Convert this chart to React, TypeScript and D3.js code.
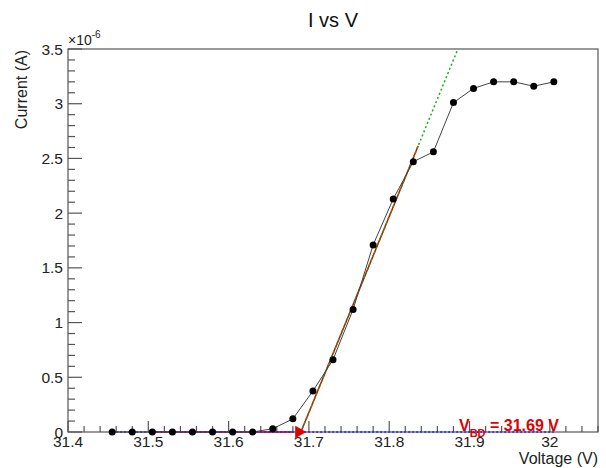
import React from "react";
import * as d3 from "d3";

const voltages = [31.455, 31.48, 31.505, 31.53, 31.555, 31.58, 31.605, 31.63, 31.655, 31.68, 31.705, 31.73, 31.755, 31.78, 31.805, 31.83, 31.855, 31.88, 31.905, 31.93, 31.955, 31.98, 32.005];
const currents = [0, 0, 0, 0, 0, 0, 0, 0, 0.03, 0.12, 0.375, 0.66, 1.12, 1.71, 2.13, 2.47, 2.56, 3.01, 3.14, 3.2, 3.2, 3.16, 3.2].map((v) => v * 1e-6);
const xTicks = [31.4, 31.5, 31.6, 31.7, 31.8, 31.9, 32];
const xTickLabels = ["31.4", "31.5", "31.6", "31.7", "31.8", "31.9", "32"];
const yTicks = [0, 0.5, 1, 1.5, 2, 2.5, 3, 3.5];
const yTickLabels = ["0", "0.5", "1", "1.5", "2", "2.5", "3", "3.5"];
const vbd = 31.69;
const slope = 17.9e-6;
const baseFit = [31.5, 31.68];
const riseFitEnd = 31.836;
const baselineRange = [31.455, 32.005];

export default function App() {
  const L = 68, R = 598, T = 49, B = 432;
  const x = d3.scaleLinear().domain([31.4, 32.06]).range([L, R]);
  const y = d3.scaleLinear().domain([0, 3.5e-6]).range([B, T]);
  const font = "'Liberation Sans', Arial, Helvetica, sans-serif";
  const line = d3.line<number>().x((_, i) => x(voltages[i])).y((d) => y(d));
  const xMinor = d3.range(31.4, 32.061, 0.02).filter((v) => Math.abs(Math.round(v * 10) - v * 10) > 1e-6);
  const yMinor = d3.range(0, 3.51, 0.1).filter((v) => Math.abs(Math.round(v * 2) - v * 2) > 1e-6);
  const greenTop = vbd + 3.5e-6 / slope;
  const tri = d3.symbol().type(d3.symbolTriangle).size(70)();
  return (
    <svg width={606} height={468} style={{ position: "absolute", left: 0, top: 0, background: "#fff" }} fontFamily={font}>
      <rect x={0} y={0} width={606} height={468} fill="#fff" />
      <text x={333} y={27} fontSize={20} textAnchor="middle" fill="#111">I vs V</text>
      <rect x={L} y={T} width={R - L} height={B - T} fill="none" stroke="#555" strokeWidth={1.2} />
      {yTicks.map((v, i) => (
        <g key={"y" + i}>
          <line x1={L} x2={L + 14} y1={y(v * 1e-6)} y2={y(v * 1e-6)} stroke="#555" strokeWidth={1.2} />
          <text x={63} y={y(v * 1e-6) + 5.5} fontSize={15.5} textAnchor="end" fill="#222">{yTickLabels[i]}</text>
        </g>
      ))}
      {yMinor.map((v, i) => (
        <line key={"ym" + i} x1={L} x2={L + 7} y1={y(v * 1e-6)} y2={y(v * 1e-6)} stroke="#555" strokeWidth={1.2} />
      ))}
      {xTicks.map((v, i) => (
        <g key={"x" + i}>
          <line x1={x(v)} x2={x(v)} y1={B} y2={B - 11} stroke="#555" strokeWidth={1.2} />
          <text x={x(v)} y={447} fontSize={15.5} textAnchor="middle" fill="#222">{xTickLabels[i]}</text>
        </g>
      ))}
      {xMinor.map((v, i) => (
        <line key={"xm" + i} x1={x(v)} x2={x(v)} y1={B} y2={B - 6} stroke="#555" strokeWidth={1.2} />
      ))}
      <text x={68} y={45} fontSize={14} fill="#222">×10<tspan dy={-7} fontSize={10}>-6</tspan></text>
      <text transform={`translate(27,50) rotate(-90)`} fontSize={16} textAnchor="end" fill="#222">Current (A)</text>
      <text x={598} y={464} fontSize={16} textAnchor="end" fill="#222">Voltage (V)</text>
      <line x1={x(baseFit[0])} x2={x(baseFit[1])} y1={y(0)} y2={y(0)} stroke="#e00000" strokeWidth={1.5} />
      <line x1={x(baselineRange[0])} x2={x(baselineRange[1])} y1={y(0)} y2={y(0)} stroke="#2020ff" strokeWidth={1.5} strokeDasharray="2,2" />
      <line x1={x(vbd)} x2={x(riseFitEnd)} y1={y(0)} y2={y(slope * (riseFitEnd - vbd))} stroke="#e00000" strokeWidth={1.5} />
      <line x1={x(vbd)} x2={x(greenTop)} y1={y(0)} y2={y(3.5e-6)} stroke="#10b010" strokeWidth={1.5} strokeDasharray="2,2.5" />
      <path d={line(currents) || ""} fill="none" stroke="#444" strokeWidth={1} />
      {currents.map((c, i) => (
        <circle key={"p" + i} cx={x(voltages[i])} cy={y(c)} r={3.5} fill="#000" />
      ))}
      <path d={tri || ""} transform={`translate(${x(vbd) - 2},${y(0)}) rotate(90)`} fill="#e00000" />
      <text x={459} y={431} fontSize={16} fontWeight="bold" fill="#e00000">V<tspan dy={6} fontSize={11}>BD</tspan><tspan dy={-6}> = 31.69 V</tspan></text>
    </svg>
  );
}
